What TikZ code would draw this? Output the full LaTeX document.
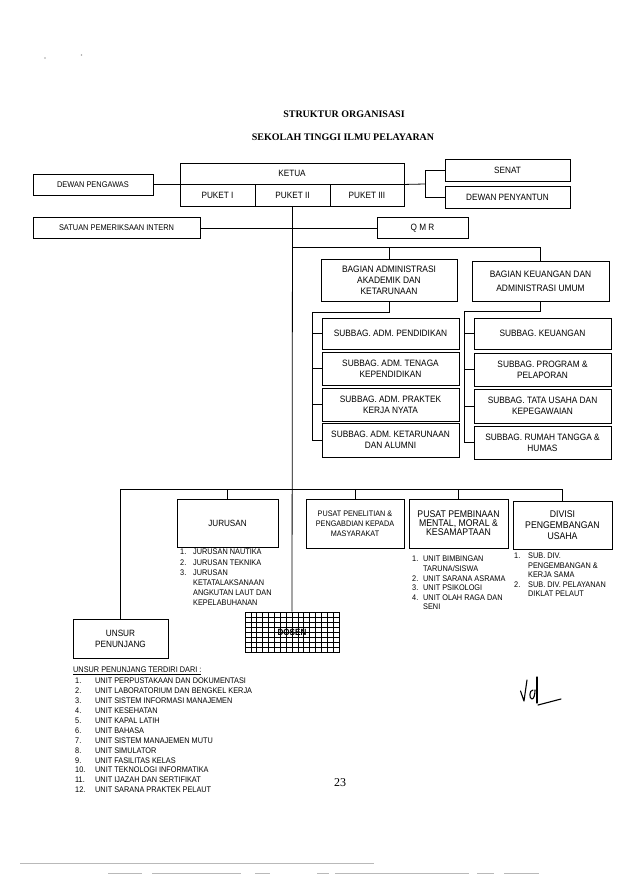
\documentclass[tikz,border=0pt]{standalone}
\usepackage{fontspec}
\setmainfont[FakeStretch=0.9]{Liberation Sans}
\newfontfamily\serifx{Liberation Serif}
\newcommand\fs[2]{\fontsize{\fpeval{#1*1.1}}{#2}\selectfont}
\newcommand\mkbox[7]{\node[box, minimum width={(#4)-(#2)}, minimum height={(#5)-(#3)}, font={#6}] (#1) at ({((#2)+(#4))/2},{((#3)+(#5))/2}) {#7};}
\begin{document}
\begin{tikzpicture}[x=1pt,y=-1pt,
  box/.style={draw, line width=0.9pt, inner sep=0pt, align=center},
  ln/.style={line width=0.8pt},
  lst/.style={anchor=north west, inner sep=0pt, align=left},
  scan/.style={gray!55, line width=0.6pt}]
\useasboundingbox (0,0) rectangle (637,893);

% specks
\fill[gray!70] (45,58) circle (0.9);
\fill[gray!70] (81.5,55) circle (0.9);

% titles
\node[font=\serifx\bfseries\fontsize{10}{12}\selectfont] (t1) at (344,114) {STRUKTUR ORGANISASI};
\node[font=\serifx\bfseries\fontsize{10}{12}\selectfont] (t2) at (343,137) {SEKOLAH TINGGI ILMU PELAYARAN};

% top level
\mkbox{dp}{33}{174}{153}{195}{\fs{7.5}{9}}{DEWAN PENGAWAS}
\mkbox{ketua}{180}{163}{404}{184}{\fs{8.3}{10}}{KETUA}
\mkbox{pk1}{180}{184}{255}{206}{\fs{8.3}{10}}{PUKET I}
\mkbox{pk2}{255}{184}{330}{206}{\fs{8.3}{10}}{PUKET II}
\mkbox{pk3}{330}{184}{404}{206}{\fs{8.3}{10}}{PUKET III}
\mkbox{senat}{445}{159}{570}{181}{\fs{8.3}{10}}{SENAT}
\mkbox{dpy}{445}{186}{570}{208}{\fs{8.3}{10}}{DEWAN PENYANTUN}
\mkbox{spi}{33}{217.5}{200}{238.5}{\fs{7.5}{9}}{SATUAN PEMERIKSAAN INTERN}
\mkbox{qmr}{377}{217.5}{468}{238.5}{\fs{8.3}{10}}{Q M R}

% bagian
\mkbox{bak}{321}{259}{457}{301}{\fs{8.5}{11}}{BAGIAN ADMINISTRASI\\AKADEMIK DAN\\KETARUNAAN}
\mkbox{bku}{472}{261}{609}{301}{\fs{8.5}{14.3}}{BAGIAN KEUANGAN DAN\\ADMINISTRASI UMUM}

\mkbox{sa1}{322}{318}{459}{349}{\fs{8.4}{10.8}}{SUBBAG. ADM. PENDIDIKAN}
\mkbox{sa2}{322}{352}{459}{385}{\fs{8.4}{10.8}}{SUBBAG. ADM. TENAGA\\KEPENDIDIKAN}
\mkbox{sa3}{322}{388}{459}{421}{\fs{8.4}{10.8}}{SUBBAG. ADM. PRAKTEK\\KERJA NYATA}
\mkbox{sa4}{322}{423}{459}{457}{\fs{8.4}{10.8}}{SUBBAG. ADM. KETARUNAAN\\DAN ALUMNI}

\mkbox{sb1}{474}{318}{611}{349}{\fs{8.4}{10.8}}{SUBBAG. KEUANGAN}
\mkbox{sb2}{474}{353}{611}{386}{\fs{8.4}{10.8}}{SUBBAG. PROGRAM \&\\PELAPORAN}
\mkbox{sb3}{474}{389}{611}{423}{\fs{8.4}{10.8}}{SUBBAG. TATA USAHA DAN\\KEPEGAWAIAN}
\mkbox{sb4}{474}{426}{611}{459}{\fs{8.4}{10.8}}{SUBBAG. RUMAH TANGGA \&\\HUMAS}

% lower level
\mkbox{jur}{177}{499}{278}{547}{\fs{8.2}{10}}{JURUSAN}
\mkbox{ppm}{306}{499}{404}{548}{\fs{7.3}{10}}{PUSAT PENELITIAN \&\\PENGABDIAN KEPADA\\MASYARAKAT}
\mkbox{pmb}{409}{499}{508}{548}{\fs{8.8}{9}}{PUSAT PEMBINAAN\\MENTAL, MORAL \&\\KESAMAPTAAN}
\mkbox{div}{513}{501}{612}{549}{\fs{8.8}{11.3}}{DIVISI\\PENGEMBANGAN\\USAHA}
\mkbox{unsur}{73}{619}{168}{658}{\fs{8.3}{11}}{UNSUR\\PENUNJANG}

% dosen
\node[font=\fs{8.2}{10}\bfseries] (dostxt) at (292,632) {DOSEN};
\foreach \i in {1,...,15} \draw[line width=0.7pt] ({245+\i*94/16},612) -- ({245+\i*94/16},652);
\foreach \j in {1,...,7} \draw[line width=0.7pt] (245,{612+\j*5}) -- (339,{612+\j*5});
\mkbox{dosen}{245}{612}{339}{652}{\fs{8}{10}}{}

% connectors top
\coordinate (br) at (425,184);
\draw[ln] (dp.east) -- (dp.east -| ketua.west);
\draw[ln] (ketua.south east) -- (br);
\draw[ln] (senat.west) -- (senat.west -| br) -- (dpy.west -| br) -- (dpy.west);
\draw[ln] (spi.east) -- (qmr.west);
\draw[ln] (pk2.south) -- (dosen.north);

% bagian connectors
\coordinate (j1) at (292,247);
\draw[ln] (j1) -- (j1 -| bku.north) -- (bku.north);
\draw[ln] (j1 -| bak.north) -- (bak.north);

\coordinate (lb) at (312,312);
\draw[ln] (bak.south) -- (bak.south |- lb) -- (lb) -- (lb |- sa4.west) -- (sa4.west);
\draw[ln] (lb |- sa1.west) -- (sa1.west);
\draw[ln] (lb |- sa2.west) -- (sa2.west);
\draw[ln] (lb |- sa3.west) -- (sa3.west);

\coordinate (rb) at (464,311);
\draw[ln] (bku.south) -- (bku.south |- rb) -- (rb) -- (rb |- sb4.west) -- (sb4.west);
\draw[ln] (rb |- sb1.west) -- (sb1.west);
\draw[ln] (rb |- sb2.west) -- (sb2.west);
\draw[ln] (rb |- sb3.west) -- (sb3.west);

% lower connectors
\coordinate (h) at (0,489);
\draw[ln] (unsur.north) -- (unsur.north |- h) -- (div.north |- h) -- (div.north);
\draw[ln] (jur.north) -- (jur.north |- h);
\draw[ln] (ppm.north) -- (ppm.north |- h);
\draw[ln] (pmb.north) -- (pmb.north |- h);

% lists
\node[lst, font=\fs{7.4}{10.2}] (jlist) at (180,549) {%
\makebox[13pt][l]{1.}JURUSAN NAUTIKA\\
\makebox[13pt][l]{2.}JURUSAN TEKNIKA\\
\makebox[13pt][l]{3.}JURUSAN\\
\hspace*{13pt}KETATALAKSANAAN\\
\hspace*{13pt}ANGKUTAN LAUT DAN\\
\hspace*{13pt}KEPELABUHANAN};

\node[lst, font=\fs{7.4}{9.6}] (plist) at (412,556) {%
\makebox[11pt][l]{1.}UNIT BIMBINGAN\\
\hspace*{11pt}TARUNA/SISWA\\
\makebox[11pt][l]{2.}UNIT SARANA ASRAMA\\
\makebox[11pt][l]{3.}UNIT PSIKOLOGI\\
\makebox[11pt][l]{4.}UNIT OLAH RAGA DAN\\
\hspace*{11pt}SENI};

\node[lst, font=\fs{7.4}{9.5}] (dlist) at (514,553) {%
\makebox[14pt][l]{1.}SUB. DIV.\\
\hspace*{14pt}PENGEMBANGAN \&\\
\hspace*{14pt}KERJA SAMA\\
\makebox[14pt][l]{2.}SUB. DIV. PELAYANAN\\
\hspace*{14pt}DIKLAT PELAUT};

\node[anchor=west, inner sep=0pt, font=\fs{7.4}{9}] (uph) at (73,671) {\underline{UNSUR PENUNJANG TERDIRI DARI :}};
\node[lst, font=\fs{7.4}{9.9}] (ulist) at (75,678) {%
\makebox[20pt][l]{1.}UNIT PERPUSTAKAAN DAN DOKUMENTASI\\
\makebox[20pt][l]{2.}UNIT LABORATORIUM DAN BENGKEL KERJA\\
\makebox[20pt][l]{3.}UNIT SISTEM INFORMASI MANAJEMEN\\
\makebox[20pt][l]{4.}UNIT KESEHATAN\\
\makebox[20pt][l]{5.}UNIT KAPAL LATIH\\
\makebox[20pt][l]{6.}UNIT BAHASA\\
\makebox[20pt][l]{7.}UNIT SISTEM MANAJEMEN MUTU\\
\makebox[20pt][l]{8.}UNIT SIMULATOR\\
\makebox[20pt][l]{9.}UNIT FASILITAS KELAS\\
\makebox[20pt][l]{10.}UNIT TEKNOLOGI INFORMATIKA\\
\makebox[20pt][l]{11.}UNIT IJAZAH DAN SERTIFIKAT\\
\makebox[20pt][l]{12.}UNIT SARANA PRAKTEK PELAUT};

\node[font=\serifx\fontsize{12}{14}\selectfont] (pg) at (340,783) {23};

% signature
\draw[line width=1.1pt, line cap=round, line join=round]
  (520.5,691) -- (524,701) -- (527,680);
\draw[line width=1.1pt, line cap=round, line join=round]
  (533,690) .. controls (529,690) and (529,699) .. (532,699) .. controls (534,699) and (535,694) .. (535,690);
\draw[line width=1.1pt, line cap=round] (537,677) -- (537,703);
\draw[line width=1.1pt, line cap=round] (538,705) -- (561,699);

% scan lines
\draw[scan] (20,863) -- (374,863);
\draw[scan] (108,873) -- (142,873) (152,873) -- (241,873) (255,873) -- (270,873)
  (317,873) -- (329,873) (335,873) -- (469,873) (477,873) -- (494,873) (504,873) -- (539,873);
\end{tikzpicture}
\end{document}
